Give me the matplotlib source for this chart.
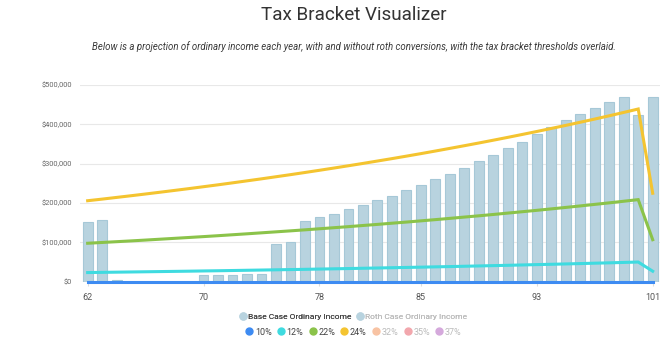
import numpy as np
import matplotlib.pyplot as plt
from matplotlib.lines import Line2D
from matplotlib.ticker import FuncFormatter

plt.rcParams['font.family'] = ['Roboto', 'DejaVu Sans']

# data (thousands of $)
years = list(range(62, 102))
base_income = [152, 157, 5, 0, 0, 0, 0, 0, 17, 17, 18.5, 19, 20, 96, 100, 155, 164, 173,
               184, 195, 207, 218, 232, 245, 260, 275, 289, 306, 321, 339, 356, 375,
               393, 410, 426, 442, 456, 470, 424, 470]
b10 = [0] * 40
b12 = [23.6, 24.1, 24.6, 25.1, 25.6, 26.1, 26.6, 27.1, 27.7, 28.2, 28.8, 29.4, 30.0,
       30.6, 31.2, 31.8, 32.5, 33.1, 33.8, 34.5, 35.2, 35.9, 36.6, 37.3, 38.1, 38.8,
       39.6, 40.4, 41.2, 42.0, 42.9, 43.8, 44.6, 45.5, 46.4, 47.4, 48.3, 49.3, 50.3, 27]
b22 = [98.0, 100.0, 102.0, 104.0, 106.1, 108.3, 110.5, 112.7, 114.9, 117.2, 119.6,
       122.0, 124.5, 127.0, 129.5, 132.1, 134.8, 137.5, 140.2, 143.1, 145.9, 148.9,
       151.8, 154.9, 158.0, 161.2, 164.5, 167.7, 171.1, 174.6, 178.1, 181.6, 185.3,
       189.0, 192.8, 196.7, 200.6, 204.7, 208.8, 107]
b24 = [206.0, 210.1, 214.4, 218.7, 223.1, 227.6, 232.2, 236.8, 241.6, 246.4, 251.4,
       256.5, 261.6, 266.9, 272.2, 277.7, 283.3, 289.0, 294.8, 300.7, 306.8, 312.9,
       319.2, 325.6, 332.2, 338.9, 345.7, 352.6, 359.7, 366.9, 374.3, 381.8, 389.5,
       397.3, 405.3, 413.4, 421.7, 430.2, 438.9, 225]
tick_years = [62, 70, 78, 85, 93, 101]

fig = plt.figure(figsize=(6.7, 3.51), dpi=100)
ax = fig.add_axes([0.12, 0.197, 0.865, 0.561])

x = np.arange(len(years))
ax.bar(x, np.array(base_income) * 1000, width=0.68, color='#b8d3df',
       edgecolor='#a6c8d7', linewidth=0.8, zorder=2)

for vals, col in [(b10, '#3d8bf2'), (b12, '#3fdbe0'), (b22, '#8bc34a'), (b24, '#f4c430')]:
    ax.plot(x, np.array(vals) * 1000, color=col, lw=2.2, zorder=3, clip_on=False,
            solid_joinstyle='miter')

ax.set_xlim(-0.5, len(years) - 0.5)
ax.set_ylim(0, 500000)
ax.set_yticks(np.arange(0, 500001, 100000))
ax.yaxis.set_major_formatter(FuncFormatter(lambda v, p: '${:,.0f}'.format(v)))
ax.set_xticks([years.index(t) for t in tick_years])
ax.set_xticklabels([str(t) for t in tick_years])
ax.grid(axis='y', color='#e8e8e8', lw=0.8, zorder=0)
for s in ax.spines.values():
    s.set_visible(False)
ax.tick_params(axis='y', length=0, labelsize=5.4, labelcolor='#666666', pad=6)
ax.tick_params(axis='x', length=3, color='#dddddd', labelsize=6.5, labelcolor='#555555', pad=5)

cx = 0.528
fig.text(cx, 0.958, 'Tax Bracket Visualizer', ha='center', va='center',
         fontsize=13.6, color='#333333')
fig.text(cx, 0.866, 'Below is a projection of ordinary income each year, with and without '
         'roth conversions, with the tax bracket thresholds overlaid.',
         ha='center', va='center', fontsize=6.95, style='italic', color='#3a3a3a')

def dot(c):
    return Line2D([], [], ls='none', marker='o', markersize=5, color=c)

leg1 = fig.legend([dot('#b8d3df'), dot('#b8d3df')],
                  ['Base Case Ordinary Income', 'Roth Case Ordinary Income'],
                  loc='center', bbox_to_anchor=(cx, 0.097), ncol=2, frameon=False,
                  fontsize=6, handlelength=0.7, handletextpad=0.25, columnspacing=0.7)
for t, c in zip(leg1.get_texts(), ['#444444', '#bbbbbb']):
    t.set_color(c)

cols = ['#3d8bf2', '#3fdbe0', '#8bc34a', '#f4c430', '#f8c3a3', '#f2a7ad', '#d5a9dc']
labs = ['10%', '12%', '22%', '24%', '32%', '35%', '37%']
leg2 = fig.legend([dot(c) for c in cols], labs, loc='center', bbox_to_anchor=(cx, 0.054),
                  ncol=7, frameon=False, fontsize=6.5, handlelength=0.7,
                  handletextpad=0.25, columnspacing=0.7)
for i, t in enumerate(leg2.get_texts()):
    t.set_color('#444444' if i < 4 else '#bbbbbb')
fig.add_artist(leg1)

fig.savefig('out.png', dpi=100)
